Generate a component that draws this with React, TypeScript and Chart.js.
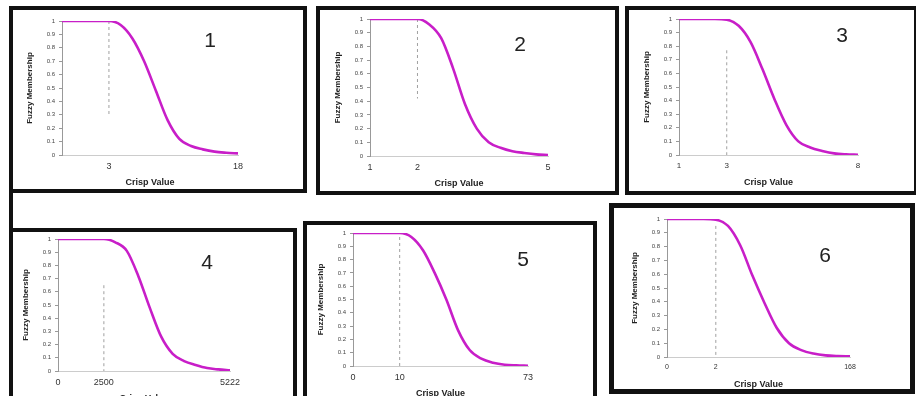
import React, { useEffect, useRef } from 'react';
import { Chart, registerables } from 'chart.js';

Chart.register(...registerables);

// ---------- data ----------
const panelNumbers = ['1', '2', '3', '4', '5', '6'];

const xLabels1 = ['', '', '', '', '3', '', '', '', '', '', '', '', '', '', '', '18'];
const xLabels2 = ['1', '', '', '', '2', '', '', '', '', '', '', '', '', '', '', '5'];
const xLabels3 = ['1', '', '', '', '3', '', '', '', '', '', '', '', '', '', '', '8'];
const xLabels4 = ['0', '', '', '', '2500', '', '', '', '', '', '', '', '', '', '', '5222'];
const xLabels5 = ['0', '', '', '', '10', '', '', '', '', '', '', '', '', '', '', '73'];
const xLabels6 = ['0', '', '', '', '2', '', '', '', '', '', '', '', '', '', '', '168'];

const membership1 = [1, 1, 1, 1, 1, 0.97, 0.87, 0.7, 0.48, 0.26, 0.12, 0.067, 0.042, 0.025, 0.017, 0.012];
const membership2 = [1, 1, 1, 1, 1, 0.96, 0.86, 0.64, 0.38, 0.2, 0.1, 0.06, 0.035, 0.022, 0.012, 0.007];
const membership3 = [1, 1, 1, 1, 0.995, 0.95, 0.83, 0.63, 0.41, 0.22, 0.1, 0.055, 0.03, 0.012, 0.005, 0.002];
const membership4 = [1, 1, 1, 1, 1, 0.975, 0.91, 0.72, 0.48, 0.26, 0.13, 0.075, 0.045, 0.022, 0.012, 0.005];
const membership5 = [1, 1, 1, 1, 1, 0.97, 0.87, 0.7, 0.5, 0.27, 0.12, 0.055, 0.025, 0.01, 0.005, 0.002];
const membership6 = [1, 1, 1, 1, 0.995, 0.95, 0.81, 0.59, 0.39, 0.21, 0.1, 0.05, 0.025, 0.012, 0.007, 0.005];

const kneeIndex = [4, 4, 4, 4, 4, 4];
const kneeTop = [1, 1, 0.77, 0.65, 0.97, 0.95];
const kneeBottom = [0.3, 0.42, 0, 0, 0, 0];

const allLabels = [xLabels1, xLabels2, xLabels3, xLabels4, xLabels5, xLabels6];
const allValues = [membership1, membership2, membership3, membership4, membership5, membership6];

// ---------- layout ----------
const FONT = '"Liberation Sans", Arial, sans-serif';
const CURVE = '#c81ec8';
const YW = 40;
const XH = 34;
const PT = 8;
const PR = 22;

type Layout = {
  box: { l: number; t: number; r: number; b: number; w: number };
  plot: { l: number; t: number; r: number; b: number };
  num: { x: number; y: number };
  xTickSize: number;
};

const layouts: Layout[] = [
  { box: { l: 9, t: 6, r: 307, b: 193, w: 4 }, plot: { l: 62, t: 21, r: 238, b: 155 }, num: { x: 210, y: 40 }, xTickSize: 9 },
  { box: { l: 316, t: 6, r: 619, b: 195, w: 4 }, plot: { l: 370, t: 19, r: 548, b: 156 }, num: { x: 520, y: 44 }, xTickSize: 9 },
  { box: { l: 625, t: 6, r: 918, b: 195, w: 4 }, plot: { l: 679, t: 19, r: 858, b: 155 }, num: { x: 842, y: 35 }, xTickSize: 8 },
  { box: { l: 9, t: 228, r: 297, b: 410, w: 4 }, plot: { l: 58, t: 239, r: 230, b: 371 }, num: { x: 207, y: 262 }, xTickSize: 9 },
  { box: { l: 303, t: 221, r: 597, b: 410, w: 4 }, plot: { l: 353, t: 233, r: 528, b: 366 }, num: { x: 523, y: 259 }, xTickSize: 9 },
  { box: { l: 609, t: 203, r: 915, b: 394, w: 5 }, plot: { l: 667, t: 219, r: 850, b: 357 }, num: { x: 825, y: 255 }, xTickSize: 7 },
];

function Panel({ idx }: { idx: number }) {
  const ref = useRef<HTMLCanvasElement | null>(null);
  const lay = layouts[idx];
  const labels = allLabels[idx];
  const values = allValues[idx];
  const cw = lay.plot.r - lay.plot.l + YW + PR;
  const ch = lay.plot.b - lay.plot.t + PT + XH;

  useEffect(() => {
    if (!ref.current) return;
    const chart = new Chart(ref.current, {
      type: 'line',
      data: {
        datasets: [
          {
            data: values.map((y, i) => ({ x: i, y })),
            borderColor: CURVE,
            borderWidth: 2.6,
            pointRadius: 0,
            cubicInterpolationMode: 'monotone',
            fill: false,
          },
          {
            data: [
              { x: kneeIndex[idx], y: kneeTop[idx] },
              { x: kneeIndex[idx], y: kneeBottom[idx] },
            ],
            borderColor: '#a0a0a0',
            borderWidth: 1,
            borderDash: [3, 3],
            pointRadius: 0,
            fill: false,
          },
        ],
      },
      options: {
        responsive: false,
        animation: false,
        devicePixelRatio: 1,
        layout: { padding: { top: PT, right: PR, left: 0, bottom: 0 } },
        plugins: { legend: { display: false }, tooltip: { enabled: false } },
        scales: {
          x: {
            type: 'linear',
            min: 0,
            max: labels.length - 1,
            afterFit: (s: any) => {
              s.height = XH;
            },
            grid: { display: false, drawTicks: false },
            border: { color: '#cccccc', width: 1 },
            ticks: {
              stepSize: 1,
              autoSkip: false,
              maxRotation: 0,
              padding: 6,
              color: '#333',
              font: { size: lay.xTickSize, family: FONT },
              callback: (v: any) => labels[Math.round(Number(v))] ?? '',
            },
            title: {
              display: true,
              text: 'Crisp Value',
              color: '#222',
              font: { size: 9, weight: 'bold', family: FONT },
              padding: { top: 0, bottom: 1 },
            },
          },
          y: {
            min: 0,
            max: 1,
            afterFit: (s: any) => {
              s.width = YW;
            },
            grid: { drawOnChartArea: false, tickLength: 3, color: '#999' },
            border: { color: '#999', width: 1 },
            ticks: {
              stepSize: 0.1,
              autoSkip: false,
              padding: 4,
              color: '#444',
              font: { size: 6, family: FONT },
              callback: (v: any) => {
                const n = Number(v);
                if (Math.abs(n) < 1e-9) return '0';
                if (Math.abs(n - 1) < 1e-9) return '1';
                return n.toFixed(1);
              },
            },
            title: {
              display: true,
              text: 'Fuzzy Membership',
              color: '#222',
              font: { size: 8, weight: 'bold', family: FONT },
              padding: { top: 3, bottom: 0 },
            },
          },
        },
      },
    } as any);
    return () => chart.destroy();
  }, []);

  return (
    <>
      <div
        style={{
          position: 'absolute',
          left: lay.box.l,
          top: lay.box.t,
          width: lay.box.r - lay.box.l,
          height: lay.box.b - lay.box.t,
          border: `${lay.box.w}px solid #111`,
          boxSizing: 'border-box',
        }}
      />
      <canvas
        ref={ref}
        width={cw}
        height={ch}
        style={{
          position: 'absolute',
          left: lay.plot.l - YW,
          top: lay.plot.t - PT,
          width: cw,
          height: ch,
        }}
      />
      <div
        style={{
          position: 'absolute',
          left: lay.num.x - 20,
          top: lay.num.y - 13,
          width: 40,
          height: 26,
          lineHeight: '26px',
          textAlign: 'center',
          fontFamily: FONT,
          fontSize: 21,
          color: '#222',
        }}
      >
        {panelNumbers[idx]}
      </div>
    </>
  );
}

export default function App() {
  return (
    <div
      style={{
        position: 'absolute',
        left: 0,
        top: 0,
        width: 916,
        height: 396,
        overflow: 'hidden',
        background: '#fff',
      }}
    >
      <div
        style={{
          position: 'absolute',
          left: 9,
          top: 6,
          width: 4,
          height: 400,
          background: '#111',
        }}
      />
      {layouts.map((_, i) => (
        <Panel key={i} idx={i} />
      ))}
    </div>
  );
}
